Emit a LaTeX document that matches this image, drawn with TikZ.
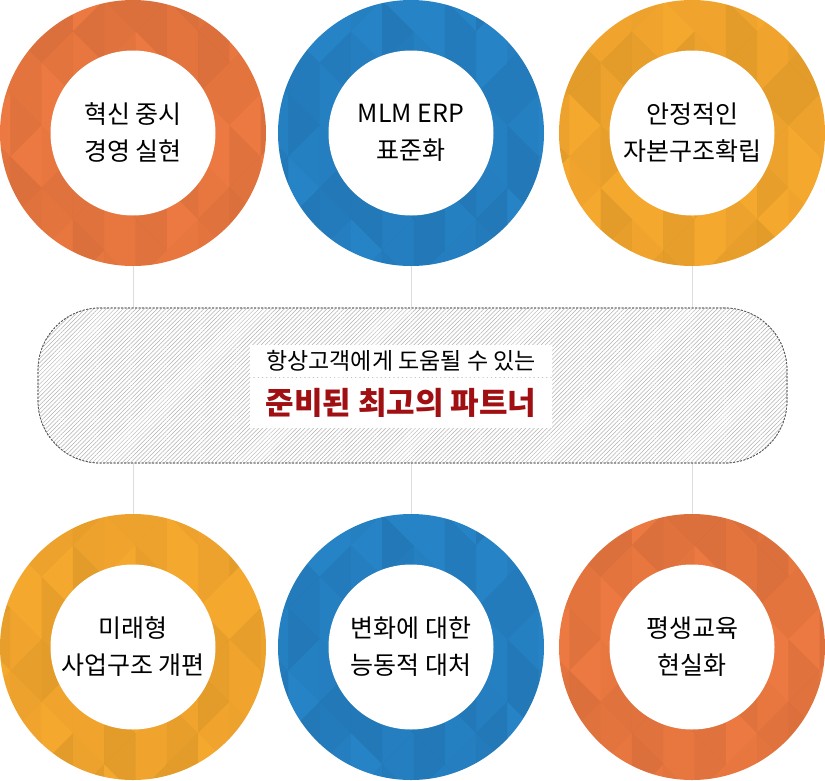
\documentclass[tikz,border=0pt]{standalone}
\usepackage{fontspec}
\setmainfont{Noto Sans CJK KR}
\usetikzlibrary{patterns.meta,calc}
\definecolor{corange}{HTML}{EC7941}
\definecolor{cblue}{HTML}{2683C6}
\definecolor{cyellow}{HTML}{F5A82E}
\definecolor{cred}{HTML}{A00F12}
\definecolor{cline}{HTML}{DDDDDD}
\newcommand{\myringtex}[2]{%
  \begin{scope}
    \clip (#1) circle[radius=133pt];
    \begin{scope}[shift={($(#1)+(-133,-133)$)}]
    \foreach \i in {0,...,9}{
      \foreach \j in {-1,...,5}{
        \pgfmathsetmacro\a{-21+31.3*\i}
        \pgfmathsetmacro\b{\a+31.3}
        \pgfmathsetmacro\o{mod(\i,2)*31.3+62.6*\j}
        \pgfmathsetmacro\pa{mod(\i*7+\j*11+#2,5)*0.018}
        \pgfmathsetmacro\pb{mod(\i*5+\j*3+#2+2,5)*0.018}
        \fill[black,fill opacity=\pa] (\a,\o) -- (\a,\o+62.6) -- (\b,\o+31.3) -- cycle;
        \fill[black,fill opacity=\pb] (\b,\o+31.3) -- (\b,\o+93.9) -- (\a,\o+62.6) -- cycle;
      }
    }
    \end{scope}
  \end{scope}}
\tikzset{
  ring/.style={circle, minimum size=266pt, inner sep=0pt, draw=none},
  hole/.style={circle, minimum size=165pt, inner sep=0pt, fill=white},
  lbl/.style={align=center, inner sep=0pt, font=\fontsize{25}{37}\selectfont},
  conn/.style={draw=cline, line width=0.8pt},
  pill/.style={rounded corners=62pt, draw=black!65, dash pattern=on 2pt off 1.5pt, line width=0.7pt,
     minimum width=749pt, minimum height=155pt, inner sep=0pt},
}
\begin{document}
\begin{tikzpicture}[x=1pt,y=-1pt]
\useasboundingbox (0,0) rectangle (825,780);
% rings
\node[ring, fill=corange] (c1) at (133,133) {};
\node[ring, fill=cblue]   (c2) at (411,133) {};
\node[ring, fill=cyellow] (c3) at (692,133) {};
\node[ring, fill=cyellow] (c4) at (133,647) {};
\node[ring, fill=cblue]   (c5) at (411,647) {};
\node[ring, fill=corange] (c6) at (692,647) {};
\myringtex{c1}{0}
\myringtex{c2}{1}
\myringtex{c3}{2}
\myringtex{c4}{3}
\myringtex{c5}{1}
\myringtex{c6}{0}
% connectors
\draw[conn] (c1.south) -- (c4.north);
\draw[conn] (c2.south) -- (c5.north);
\draw[conn] (c3.south) -- (c6.north);
% pill
\node[pill, fill=white] (p) at (412.5,385.5) {};
\fill[pattern={Lines[angle=45,distance=3pt,line width=0.5pt]}, pattern color=black!30]
  (p.north west) [rounded corners=62pt] rectangle (p.south east);
\node[pill, fill=none] (pb) at (p) {};
% holes
\foreach \k in {1,...,6}{\node[hole] (h\k) at (c\k) {};}
% labels
\node[lbl] (l1) at (c1) {혁신 중시\\경영 실현};
\node[lbl] (l2) at (c2) {MLM ERP\\표준화};
\node[lbl] (l3) at (c3) {안정적인\\자본구조확립};
\node[lbl] (l4) at (c4) {미래형\\사업구조 개편};
\node[lbl] (l5) at (c5) {변화에 대한\\능동적 대처};
\node[lbl] (l6) at (c6) {평생교육\\현실화};
% center texts
\node[fill=white, minimum width=302pt, minimum height=32pt, inner sep=0pt,
      font=\fontsize{23}{26}\selectfont] (t1) at (401,361) {항상고객에게 도움될 수 있는};
\node[fill=white, minimum width=302pt, minimum height=50pt, inner sep=0pt, text=cred,
      font=\fontsize{31}{34}\selectfont\bfseries] (t2) at (401,403) {준비된 최고의 파트너};
\end{tikzpicture}
\end{document}
